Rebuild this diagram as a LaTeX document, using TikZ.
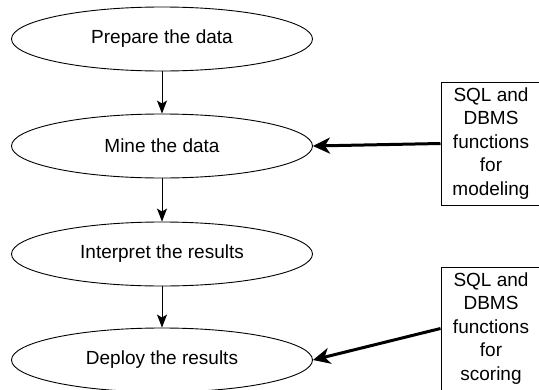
\documentclass[tikz,border=0pt]{standalone}
\usepackage{fontspec}
\setmainfont{Liberation Sans}
\usetikzlibrary{shapes.geometric,arrows.meta}
\tikzset{
  stage/.style={ellipse, draw, line width=0.9pt, minimum width=301pt, minimum height=64pt, inner sep=0pt, font=\fontsize{19}{22}\selectfont},
  fbox/.style={draw, line width=1pt, minimum width=100pt, minimum height=123pt, inner sep=0pt, align=center, font=\fontsize{19}{23.5}\selectfont},
  flow/.style={line width=1pt, -{Stealth[length=13pt, width=10pt, inset=3pt]}},
  feed/.style={line width=3pt, -{Stealth[length=17pt, width=16pt, inset=5pt]}}
}
\begin{document}
\begin{tikzpicture}[x=1pt,y=-1pt]
\useasboundingbox (0,0) rectangle (539,389);
\clip (0,0) rectangle (539,389);
\node[stage] (e1) at (162,39) {Prepare the data};
\node[stage] (e2) at (162,146) {Mine the data};
\node[stage] (e3) at (162,254) {Interpret the results};
\node[stage] (e4) at (162,360) {Deploy the results};
\node[fbox] (b1) at (491,143.5) {SQL and\\DBMS\\functions\\for\\modeling};
\node[fbox] (b2) at (491,328.5) {SQL and\\DBMS\\functions\\for\\scoring};
\draw[flow] (e1) -- (e2);
\draw[flow] (e2) -- (e3);
\draw[flow] (e3) -- (e4);
\draw[feed] (b1.west) -- (e2.east);
\draw[feed] (b2.west) -- (e4.east);
\end{tikzpicture}
\end{document}
